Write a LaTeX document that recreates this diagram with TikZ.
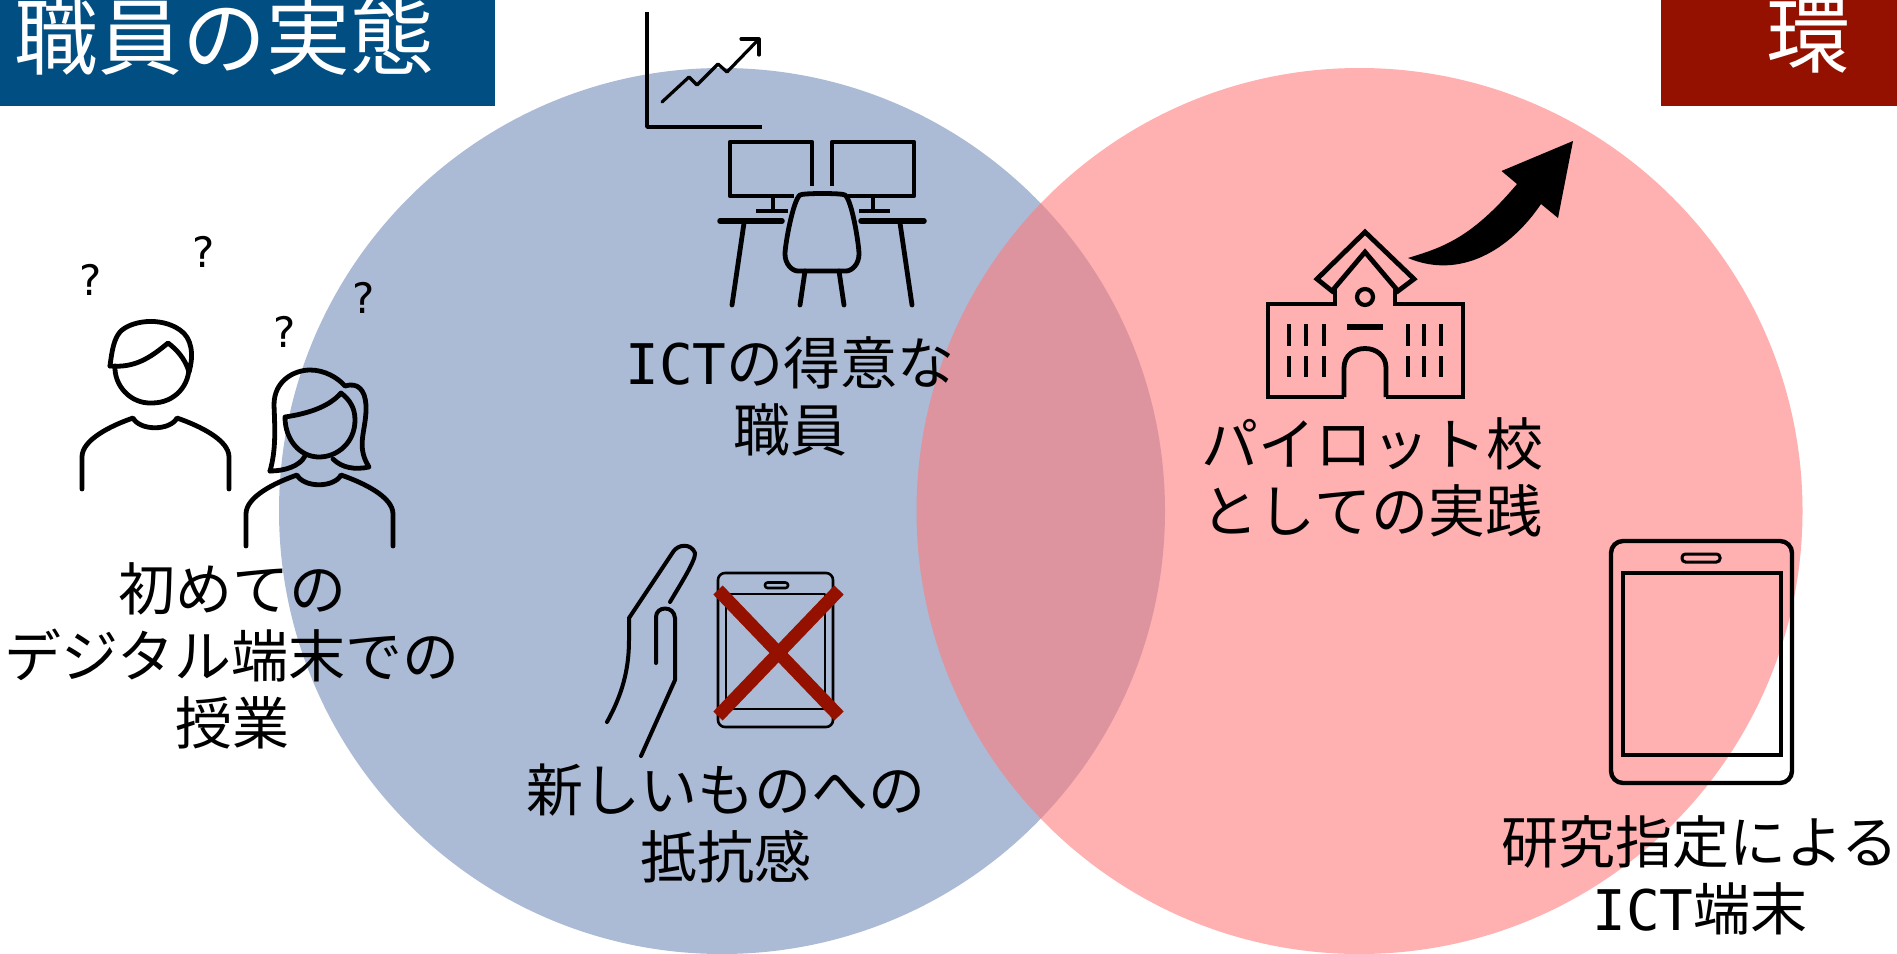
\documentclass[tikz,border=0pt]{standalone}
\usepackage{fontspec}
\setmainfont{Noto Sans CJK JP}
\newfontfamily\latinslab{DejaVu Sans Mono}
\newfontfamily\qmarkfont{DejaVu Sans}
\newcommand{\ict}{{\fontsize{56}{67}\latinslab ICT}}
\definecolor{bannerblue}{HTML}{004E82}
\definecolor{bannerred}{HTML}{941100}
\definecolor{circblue}{HTML}{ABBAD5}
\definecolor{circpink}{RGB}{255,124,124}
\tikzset{
  label56/.style={font=\fontsize{57}{67}\selectfont,align=center,inner sep=0pt,text=black},
  titletext/.style={font=\fontsize{84}{90}\selectfont,text=white,inner sep=0pt},
  qmark/.style={font=\fontsize{42}{44}\qmarkfont,inner sep=0pt,text=black},
  icon/.style={draw=black,line width=4.8pt,line cap=round,line join=round},
  thinicon/.style={draw=black,line width=2.6pt,line join=round},
}
\begin{document}
\begin{tikzpicture}[x=1pt,y=-1pt]
\useasboundingbox (0,0) rectangle (1897,953);
\fill[white] (0,0) rectangle (1897,953);
\clip (0,0) rectangle (1897,953);
% circles
\fill[circblue] (722,511) circle (443pt);
\fill[circpink,opacity=.6] (1359.5,511) circle (443pt);
% banners
\fill[bannerblue] (0,0) rectangle (495,106);
\fill[bannerred] (1661,0) rectangle (1897,106);
\node[titletext] (t1) at (224,36) {職員の実態};
\node[titletext] (t2) at (1808,36) {環};
% chart icon
\draw[icon,line width=3.6pt,line cap=butt] (647,12) -- (647,127) -- (762,127);
\draw[icon,line width=3.2pt] (662,102) -- (689,77) -- (697,85) -- (718,64) -- (727,72) -- (759,39);
\draw[icon,line width=3.2pt] (741,39) -- (759,39) -- (759,55);
% desk icon
\draw[icon,line cap=butt] (812,186) -- (812,142) -- (730,142) -- (730,196) -- (794,196);
\draw[icon,line cap=butt] (832,186) -- (832,142) -- (914,142) -- (914,196) -- (848,196);
\draw[icon,line cap=butt] (773,196) -- (773,211);
\draw[icon,line cap=butt] (756,211) -- (788,211);
\draw[icon,line cap=butt] (873,196) -- (873,211);
\draw[icon,line cap=butt] (859,211) -- (890,211);
\draw[icon,line width=5.5pt] (720,221) -- (782,221);
\draw[icon,line width=5.5pt] (861,221) -- (924,221);
\draw[icon] (744,223) -- (732,305);
\draw[icon] (900,223) -- (912,305);
\draw[icon] (800,195) .. controls (803,193) and (842,193) .. (845,195) .. controls (852,200) and (859,245) .. (859,254) .. controls (859,264) and (852,271) .. (846,271) -- (798,271) .. controls (792,271) and (785,264) .. (785,254) .. controls (785,245) and (793,200) .. (800,195) -- cycle;
\draw[icon] (805,271) -- (800,305);
\draw[icon] (839,271) -- (844,305);
% man
\draw[icon] (110,366) .. controls (112,350) and (114,339) .. (120,332) .. controls (130,321) and (160,316) .. (180,330) .. controls (192,338) and (194,355) .. (189,372);
\draw[icon] (110,366) .. controls (135,368) and (150,358) .. (168,343) .. controls (176,349) and (185,358) .. (189,372);
\draw[icon] (115,366) .. controls (114,385) and (130,404) .. (152,403) .. controls (175,403) and (190,385) .. (189,365);
\draw[icon] (82,489) -- (82,457) .. controls (82,440) and (110,426) .. (133,418) .. controls (140,431) and (170,431) .. (177,418) .. controls (200,426) and (229,440) .. (229,457) -- (229,489);
% woman
\draw[icon] (246,546) -- (246,514) .. controls (246,497) and (274,483) .. (297,475) .. controls (304,488) and (334,488) .. (341,475) .. controls (364,483) and (393,497) .. (393,514) -- (393,546);
\draw[icon] (270,471) .. controls (276,450) and (275,430) .. (274,405) .. controls (274,380) and (295,370) .. (310,370) .. controls (325,370) and (338,378) .. (345,386) .. controls (358,382) and (365,390) .. (366,405) .. controls (367,430) and (355,445) .. (369,467) .. controls (355,470) and (342,468) .. (333,459);
\draw[icon] (270,471) .. controls (285,471) and (300,466) .. (305,456);
\draw[icon] (285,417) .. controls (305,414) and (328,408) .. (341,393) .. controls (350,400) and (355,408) .. (355,420) .. controls (355,442) and (338,457) .. (319,457) .. controls (300,457) and (285,440) .. (285,417) -- cycle;
% question marks
\node[qmark] (q1) at (91,280) {?};
\node[qmark] (q2) at (204,252) {?};
\node[qmark] (q3) at (285,332) {?};
\node[qmark] (q4) at (364,298) {?};
% hand
\draw[icon,line width=4pt] (607,722) .. controls (622,695) and (629,670) .. (629,640) -- (629,618) -- (673,552) .. controls (678,544) and (691,543) .. (695,553) .. controls (696,560) and (680,585) .. (670,602);
\draw[icon,line width=4pt] (656,663) -- (656,617) .. controls (656,606) and (674,605) .. (675,618) -- (675,680) -- (641,756);
% phone + cross
\draw[thinicon,rounded corners=7pt] (718,573) rectangle (833,727);
\draw[thinicon] (726,594) rectangle (825,709);
\draw[thinicon,rounded corners=2.5pt] (765,582.5) rectangle (788,588);
\draw[line width=13pt,draw=bannerred] (718,590) -- (839,716);
\draw[line width=13pt,draw=bannerred] (839,590) -- (718,716);
% school
\draw[icon,line cap=butt,line join=miter] (1344,397) -- (1268,397) -- (1268,304) -- (1335,304) -- (1335,287);
\draw[icon,line cap=butt,line join=miter] (1395,287) -- (1395,304) -- (1463,304) -- (1463,397) -- (1386,397);
\draw[icon,line cap=butt] (1344,397) -- (1344,368) .. controls (1344,342) and (1386,342) .. (1386,368) -- (1386,397);
\draw[icon,line cap=butt,line join=miter] (1365,232) -- (1317,279) -- (1332,291) -- (1365,252) -- (1398,291) -- (1414,279) -- cycle;
\draw[draw=black,line width=4.2pt] (1365,297) ellipse (8pt and 8pt);
\draw[draw=black,line width=5.5pt] (1347,327) -- (1383,327);
\foreach \wx in {1289,1306,1324,1408,1424,1441}{
  \draw[draw=black,line width=4.2pt] (\wx,324) -- (\wx,346);
  \draw[draw=black,line width=4.2pt] (\wx,356) -- (\wx,377);
}
% curved arrow
\fill[black] (1408,258) .. controls (1440,248) and (1470,240) .. (1517,184) -- (1501.5,171) -- (1573,141) -- (1558,218) -- (1541,204) .. controls (1510,250) and (1460,280) .. (1408,258) -- cycle;
% tablet
\draw[draw=black,line width=4.4pt,rounded corners=12pt] (1611,541) rectangle (1792,783);
\draw[draw=black,line width=4.4pt] (1623,573) rectangle (1781,755);
\draw[draw=black,line width=3pt,rounded corners=3.5pt] (1682,554) rectangle (1720,562);
% labels
\node[label56] (l1) at (790,396) {\ict の得意な\\職員};
\node[label56] (l2) at (232,656) {初めての\\デジタル端末での\\授業};
\node[label56] (l3) at (726,823) {新しいものへの\\抵抗感};
\node[label56] (l4) at (1372,477) {パイロット校\\としての実践};
\node[label56] (l5) at (1700,875) {研究指定による\\\ict 端末};
\end{tikzpicture}
\end{document}
